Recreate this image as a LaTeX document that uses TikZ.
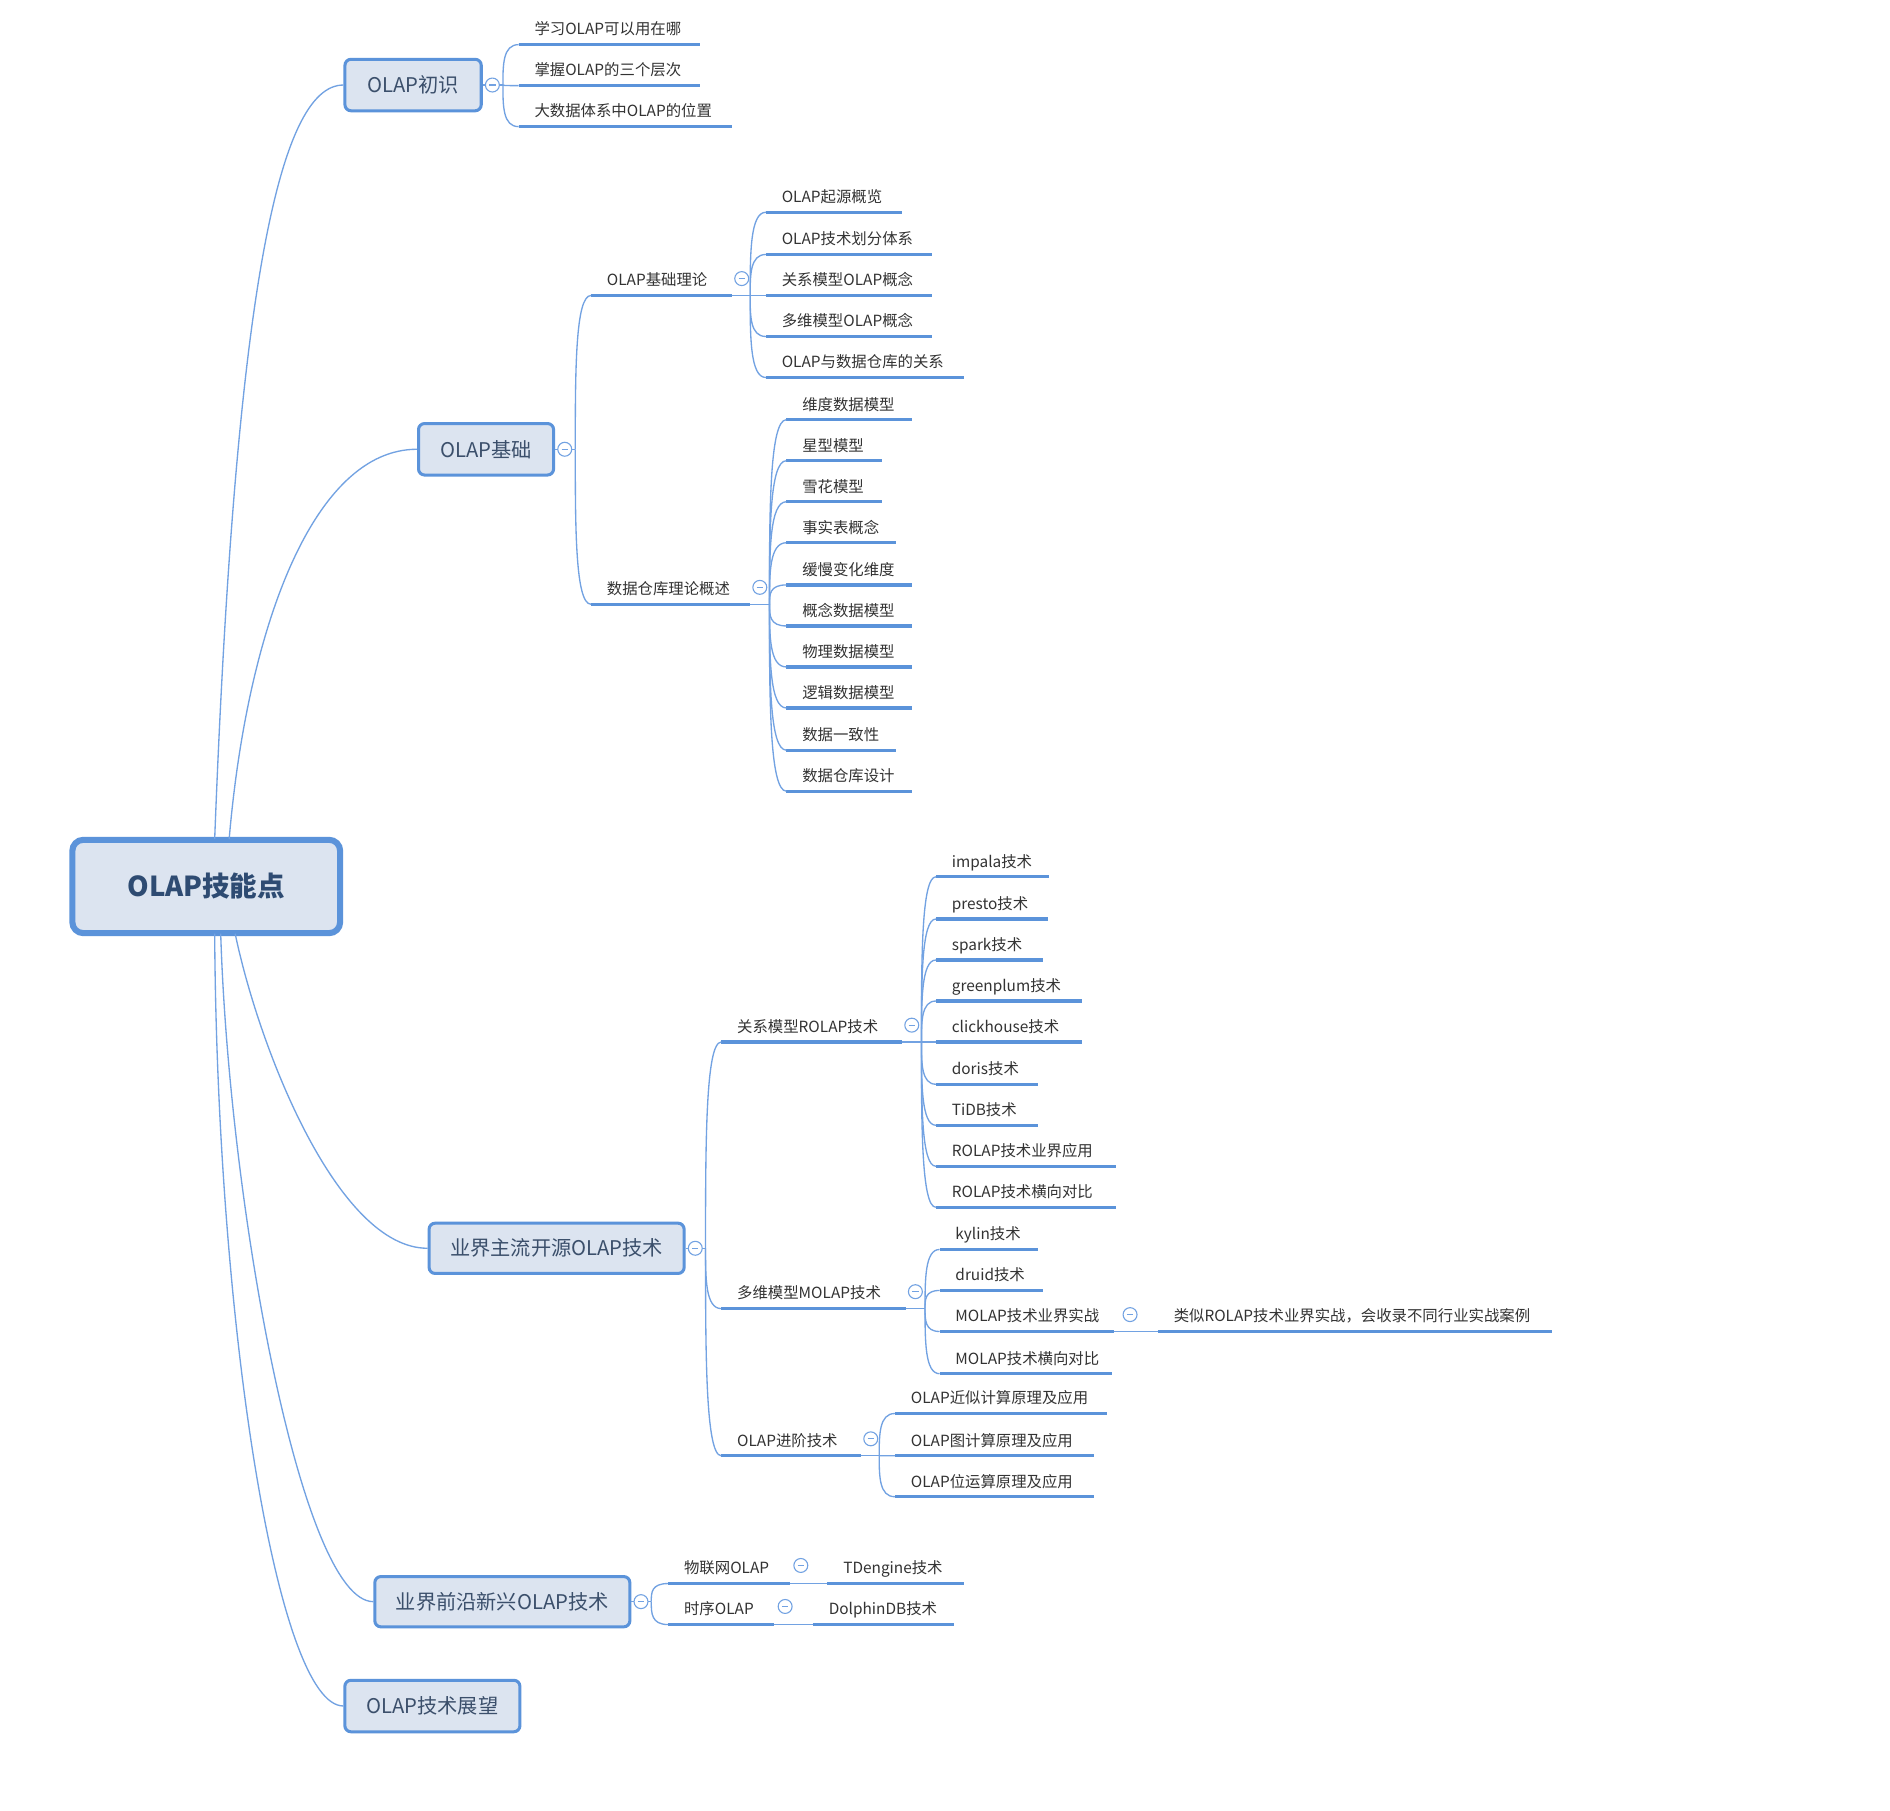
\documentclass[tikz,border=0pt]{standalone}
\usepackage{fontspec}
\setmainfont{Noto Sans CJK SC}
\usetikzlibrary{calc}
\definecolor{lineblue}{HTML}{5B93DA}
\definecolor{boxfill}{HTML}{DCE4F0}
\definecolor{boxtext}{HTML}{3B4F6B}
\definecolor{roottext}{HTML}{2E4B72}
\definecolor{leaftext}{HTML}{333333}
\definecolor{thinblue}{HTML}{72A2E2}
\tikzset{
 box/.style={draw=lineblue, fill=boxfill, line width=2.5pt, rounded corners=5pt, font=\fontsize{16.7}{20}\selectfont, text=boxtext, inner sep=0},
 rootbox/.style={box, line width=5pt, rounded corners=9pt, font=\fontsize{22.7}{26}\selectfont\bfseries, text=roottext},
 leaftxt/.style={anchor=base west, inner sep=0, font=\fontsize{12.7}{15}\selectfont, text=leaftext},
 uline/.style={draw=lineblue, line width=2.6pt},
 conn/.style={draw=thinblue, line width=1.1pt},
 fold/.style={circle, draw=thinblue, fill=white, line width=0.9pt, minimum size=11.5pt, inner sep=0,
   path picture={\draw[thinblue, line width=0.9pt] ([xshift=-2.6pt]path picture bounding box.center) -- ([xshift=2.6pt]path picture bounding box.center);}},
}
\newcommand\mmleaf[5]{%
 \coordinate (#1-s) at (#2,#4);
 \coordinate (#1-e) at (#3,#4);
 \node[leaftxt] (#1) at ($(#2,#4)+(13,-8)$) {#5};
 \draw[uline] (#1-s) -- (#1-e);}
\newcommand\mmbr[2]{\draw[conn] (#1) .. controls ($(#1)!0.5!(#1|-#2)$) and (#1|-#2) .. (#2);}
\begin{document}
\begin{tikzpicture}[x=1pt,y=-1pt]
\useasboundingbox (0,0) rectangle (1560,1494);
\fill[white] (0,0) rectangle (1560,1494);
\begin{scope}[scale=0.9955]
% ---------- boxes ----------
\node[rootbox, minimum width=221pt, minimum height=77pt] (root) at (171,735) {OLAP技能点};
\node[box, minimum width=112.5pt, minimum height=42.5pt] (n1) at (342.5,70.5) {OLAP初识};
\node[box, minimum width=111.5pt, minimum height=42.5pt] (n2) at (403,372.5) {OLAP基础};
\node[box, minimum width=210.5pt, minimum height=41.5pt] (n3) at (461.5,1035) {业界主流开源OLAP技术};
\node[box, minimum width=210.5pt, minimum height=41.5pt] (n4) at (416.5,1328) {业界前沿新兴OLAP技术};
\node[box, minimum width=144.5pt, minimum height=42.5pt] (n5) at (358.5,1414.5) {OLAP技术展望};

% ---------- root branches ----------
\draw[conn] ($(root.north)+(7,2)$) .. controls (195,250) and (230,70.5) .. (n1.west);
\draw[conn] ($(root.north)+(19,2)$) .. controls (205,520) and (260,372.5) .. (n2.west);
\draw[conn] ($(root.south)+(24,-2)$) .. controls (215,870) and (280,1035) .. (n3.west);
\draw[conn] ($(root.south)+(12,-2)$) .. controls (190,1000) and (250,1328) .. (n4.west);
\draw[conn] ($(root.south)+(7,-2)$) .. controls (180,1100) and (230,1414.5) .. (n5.west);

% ---------- OLAP初识 ----------
\mmleaf{a1}{430}{580}{37}{学习OLAP可以用在哪}
\mmleaf{a2}{430}{580}{71}{掌握OLAP的三个层次}
\mmleaf{a3}{430}{607}{105}{大数据体系中OLAP的位置}
\coordinate (n1f) at (417,70.5);
\draw[conn] (n1.east) -- (n1f);
\mmbr{n1f}{a1-s}\mmbr{n1f}{a2-s}\mmbr{n1f}{a3-s}

% ---------- OLAP基础 ----------
\mmleaf{b1}{490}{607}{245}{OLAP基础理论}
\mmleaf{b2}{490}{622}{501}{数据仓库理论概述}
\coordinate (n2f) at (477,372.5);
\draw[conn] (n2.east) -- (n2f);
\mmbr{n2f}{b1-s}\mmbr{n2f}{b2-s}

\mmleaf{c1}{635}{748}{176}{OLAP起源概览}
\mmleaf{c2}{635}{773}{211}{OLAP技术划分体系}
\mmleaf{c3}{635}{773}{245}{关系模型OLAP概念}
\mmleaf{c4}{635}{773}{279}{多维模型OLAP概念}
\mmleaf{c5}{635}{799}{313}{OLAP与数据仓库的关系}
\coordinate (b1f) at (622,245);
\draw[conn] (b1-e) -- (b1f);
\mmbr{b1f}{c1-s}\mmbr{b1f}{c2-s}\mmbr{b1f}{c3-s}\mmbr{b1f}{c4-s}\mmbr{b1f}{c5-s}

\mmleaf{d1}{652}{756}{348}{维度数据模型}
\mmleaf{d2}{652}{731}{382}{星型模型}
\mmleaf{d3}{652}{731}{416}{雪花模型}
\mmleaf{d4}{652}{743}{450}{事实表概念}
\mmleaf{d5}{652}{756}{485}{缓慢变化维度}
\mmleaf{d6}{652}{756}{519}{概念数据模型}
\mmleaf{d7}{652}{756}{553}{物理数据模型}
\mmleaf{d8}{652}{756}{587}{逻辑数据模型}
\mmleaf{d9}{652}{743}{622}{数据一致性}
\mmleaf{d10}{652}{756}{656}{数据仓库设计}
\coordinate (b2f) at (638,501);
\draw[conn] (b2-e) -- (b2f);
\mmbr{b2f}{d1-s}\mmbr{b2f}{d2-s}\mmbr{b2f}{d3-s}\mmbr{b2f}{d4-s}\mmbr{b2f}{d5-s}
\mmbr{b2f}{d6-s}\mmbr{b2f}{d7-s}\mmbr{b2f}{d8-s}\mmbr{b2f}{d9-s}\mmbr{b2f}{d10-s}

% ---------- 业界主流开源OLAP技术 ----------
\mmleaf{e1}{598}{748}{864}{关系模型ROLAP技术}
\mmleaf{e2}{598}{751}{1085}{多维模型MOLAP技术}
\mmleaf{e3}{598}{714}{1207}{OLAP进阶技术}
\coordinate (n3f) at (585,1035);
\draw[conn] (n3.east) -- (n3f);
\mmbr{n3f}{e1-s}\mmbr{n3f}{e2-s}\mmbr{n3f}{e3-s}

\mmleaf{f1}{776}{870}{727}{impala技术}
\mmleaf{f2}{776}{869}{762}{presto技术}
\mmleaf{f3}{776}{865}{796}{spark技术}
\mmleaf{f4}{776}{897}{830}{greenplum技术}
\mmleaf{f5}{776}{897}{864}{clickhouse技术}
\mmleaf{f6}{776}{861}{899}{doris技术}
\mmleaf{f7}{776}{861}{933}{TiDB技术}
\mmleaf{f8}{776}{925}{967}{ROLAP技术业界应用}
\mmleaf{f9}{776}{925}{1001}{ROLAP技术横向对比}
\coordinate (e1f) at (764,864);
\draw[conn] (e1-e) -- (e1f);
\mmbr{e1f}{f1-s}\mmbr{e1f}{f2-s}\mmbr{e1f}{f3-s}\mmbr{e1f}{f4-s}\mmbr{e1f}{f5-s}
\mmbr{e1f}{f6-s}\mmbr{e1f}{f7-s}\mmbr{e1f}{f8-s}\mmbr{e1f}{f9-s}

\mmleaf{g1}{779}{861}{1036}{kylin技术}
\mmleaf{g2}{779}{865}{1070}{druid技术}
\mmleaf{g3}{779}{924}{1104}{MOLAP技术业界实战}
\mmleaf{g4}{779}{922}{1139}{MOLAP技术横向对比}
\coordinate (e2f) at (767,1085);
\draw[conn] (e2-e) -- (e2f);
\mmbr{e2f}{g1-s}\mmbr{e2f}{g2-s}\mmbr{e2f}{g3-s}\mmbr{e2f}{g4-s}

\mmleaf{h1}{960}{1287}{1104}{类似ROLAP技术业界实战，会收录不同行业实战案例}
\draw[conn] (g3-e) -- (h1-s);

\mmleaf{i1}{742}{918}{1172}{OLAP近似计算原理及应用}
\mmleaf{i2}{742}{907}{1207}{OLAP图计算原理及应用}
\mmleaf{i3}{742}{907}{1241}{OLAP位运算原理及应用}
\coordinate (e3f) at (729,1207);
\draw[conn] (e3-e) -- (e3f);
\mmbr{e3f}{i1-s}\mmbr{e3f}{i2-s}\mmbr{e3f}{i3-s}

% ---------- 业界前沿新兴OLAP技术 ----------
\mmleaf{j1}{554}{655}{1313}{物联网OLAP}
\mmleaf{j2}{554}{642}{1347}{时序OLAP}
\coordinate (n4f) at (540,1328);
\draw[conn] (n4.east) -- (n4f);
\mmbr{n4f}{j1-s}\mmbr{n4f}{j2-s}
\mmleaf{k1}{686}{799}{1313}{TDengine技术}
\mmleaf{k2}{674}{791}{1347}{DolphinDB技术}
\draw[conn] (j1-e) -- (k1-s);
\draw[conn] (j2-e) -- (k2-s);

% ---------- fold markers ----------
\node[fold] (m1) at ($(n1.east)+(8,0)$) {};
\node[fold] (m2) at ($(n2.east)+(8,0)$) {};
\node[fold] (m3) at ($(n3.east)+(8,0)$) {};
\node[fold] (m4) at ($(n4.east)+(8,0)$) {};
\node[fold] (m5) at ($(b1-e)+(8,-14)$) {};
\node[fold] (m6) at ($(b2-e)+(8,-14)$) {};
\node[fold] (m7) at ($(e1-e)+(8,-14)$) {};
\node[fold] (m8) at ($(e2-e)+(8,-14)$) {};
\node[fold] (m9) at ($(e3-e)+(8,-14)$) {};
\node[fold] (m10) at ($(g3-e)+(13,-14)$) {};
\node[fold] (m11) at ($(j1-e)+(9,-15)$) {};
\node[fold] (m12) at ($(j2-e)+(9,-15)$) {};
\end{scope}
\end{tikzpicture}
\end{document}
